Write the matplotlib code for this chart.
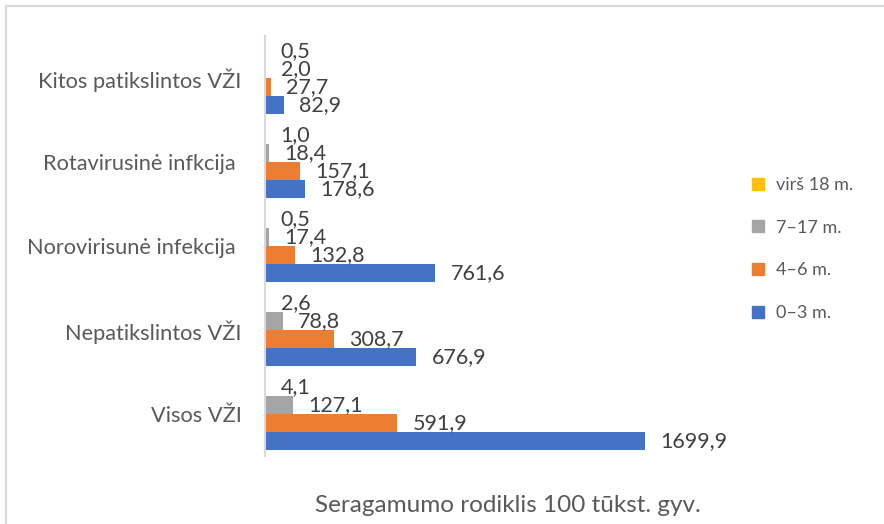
import matplotlib
matplotlib.use("Agg")
import matplotlib.pyplot as plt
from matplotlib.lines import Line2D
import numpy as np

plt.rcParams['font.family'] = ['Lato', 'DejaVu Sans']

categories = ["Visos VŽI", "Nepatikslintos VŽI", "Norovirisunė infekcija ",
              "Rotavirusinė infkcija ", "Kitos patikslintos VŽI"]
series_names = ["0–3 m.", "4–6 m.", "7–17 m.", "virš 18 m."]
v_0_3 = [1699.9, 676.9, 761.6, 178.6, 82.9]
v_4_6 = [591.9, 308.7, 132.8, 157.1, 27.7]
v_7_17 = [127.1, 78.8, 17.4, 18.4, 2.0]
v_18 = [4.1, 2.6, 0.5, 1.0, 0.5]
series = [v_0_3, v_4_6, v_7_17, v_18]
colors = ["#4472C4", "#ED7D31", "#A5A5A5", "#FFC000"]
x_label = "Seragamumo rodiklis 100 tūkst. gyv."

W, H = 884, 524
fig = plt.figure(figsize=(W / 100, H / 100), dpi=100)
ax = fig.add_axes([265 / W, 1 - 456 / H, (712 - 265) / W, 420 / H])

y = np.arange(len(categories))
h = 18 / 84
for i, (vals, c, name) in enumerate(zip(series, colors, series_names)):
    off = (i - 1.5) * h
    bars = ax.barh(y + off, vals, height=h, color=c, label=name)
    ax.bar_label(bars, labels=[f"{v:.1f}".replace('.', ',') for v in vals],
                 padding=11, fontsize=15.5, color="#404040")

ax.set_xlim(0, 2000)
ax.set_ylim(-0.5, 4.5)
ax.set_yticks(y)
ax.set_yticklabels(categories, fontsize=15.7, color="#595959")
ax.tick_params(axis='y', length=0, pad=17)
ax.set_xticks([])
for s in ["top", "right", "bottom"]:
    ax.spines[s].set_visible(False)
ax.spines["left"].set_color("#D9D9D9")
ax.spines["left"].set_linewidth(1.5)

handles = [Line2D([0], [0], marker='s', linestyle='none', markersize=9,
                  markerfacecolor=c, markeredgecolor=c) for c in colors]
leg = fig.legend(handles[::-1], series_names[::-1], loc='center left',
                 bbox_to_anchor=(733 / W, 1 - 249 / H), frameon=False,
                 fontsize=13, labelspacing=1.48, handletextpad=0.5,
                 handlelength=1.0)
for t in leg.get_texts():
    t.set_color("#595959")

fig.text(508 / W, 1 - 506 / H, x_label, ha='center', va='center',
         fontsize=17.5, color="#595959")

# chart frame
fig.add_artist(Line2D([6 / W, 1], [1 - 5.5 / H, 1 - 5.5 / H], color="#D9D9D9",
                      lw=1.5, transform=fig.transFigure))
fig.add_artist(Line2D([6 / W, 6 / W], [0, 1 - 5.5 / H], color="#D9D9D9",
                      lw=1.5, transform=fig.transFigure))

fig.savefig("out.png", dpi=100)
